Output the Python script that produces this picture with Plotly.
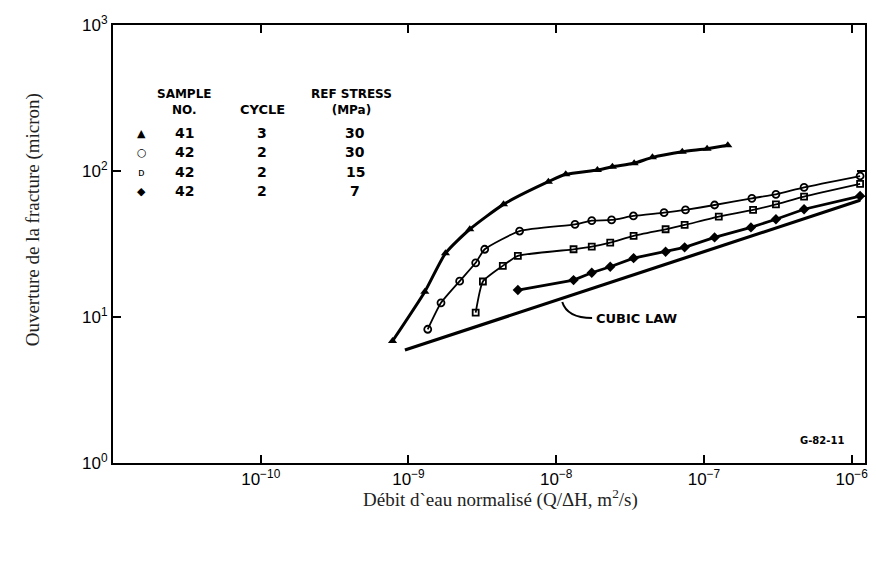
import plotly.graph_objects as go

# ---------------- data ----------------
a_x = [7.8e-10, 1.29e-9, 1.78e-9, 2.6e-9, 4.4e-9, 8.85e-9, 1.16e-8, 1.9e-8, 2.4e-8,
       3.37e-8, 4.48e-8, 7.13e-8, 1.05e-7, 1.45e-7]
a_y = [6.85, 14.9, 27.3, 39.9, 59.1, 84.5, 94.9, 101.6, 107, 113, 124, 135.6, 142, 150]

b_x = [1.35e-9, 1.66e-9, 2.22e-9, 2.85e-9, 3.28e-9, 5.65e-9, 1.34e-8, 1.74e-8, 2.37e-8,
       3.33e-8, 5.37e-8, 7.5e-8, 1.18e-7, 2.11e-7, 3.07e-7, 4.76e-7, 1.14e-6]
b_y = [8.24, 12.5, 17.6, 23.5, 29.1, 38.8, 43.1, 45.7, 46.2, 49.2, 51.8, 54.1, 58.5,
       65, 69.2, 77.3, 92.4]

c_x = [2.85e-9, 3.19e-9, 4.35e-9, 5.5e-9, 1.31e-8, 1.74e-8, 2.32e-8, 3.34e-8, 5.5e-8,
       7.4e-8, 1.26e-7, 2.15e-7, 3.07e-7, 4.76e-7, 1.14e-6]
c_y = [10.7, 17.5, 22.4, 26.2, 29.1, 30.3, 32.3, 36, 39.9, 42.7, 48.7, 54.1, 59.1, 66.7, 81.5]

d_x = [5.5e-9, 1.31e-8, 1.74e-8, 2.32e-8, 3.34e-8, 5.5e-8, 7.4e-8, 1.18e-7, 2.08e-7,
       3.07e-7, 4.76e-7, 1.14e-6]
d_y = [15.3, 17.9, 20.1, 22.1, 25.3, 28.0, 30, 35.1, 41.1, 46.7, 54.7, 67.4]

cubic_x = [9.46e-10, 1.14e-6]
cubic_y = [5.94, 63]

x_tickvals = [1e-10, 1e-9, 1e-8, 1e-7, 1e-6]
x_ticktext = ["10<sup>−10</sup>", "10<sup>−9</sup>", "10<sup>−8</sup>", "10<sup>−7</sup>", "10<sup>−6</sup>"]
y_tickvals = [1, 10, 100, 1000]
y_ticktext = ["10<sup>0</sup>", "10<sup>1</sup>", "10<sup>2</sup>", "10<sup>3</sup>"]

table_header_sample = ["SAMPLE", "NO."]
table_header_cycle = "CYCLE"
table_header_stress = ["REF STRESS", "(MPa)"]
table_symbols = ["▲", "○", "ᴅ", "◆"]
table_sample = ["41", "42", "42", "42"]
table_cycle = ["3", "2", "2", "2"]
table_stress = ["30", "30", "15", "7"]

# ---------------- layout geometry ----------------
W, H = 876, 562
L, R, T, B = 113, 868, 25, 463

def px(x):
    return (x - L) / (R - L)

def py(y):
    return (B - y) / (B - T)

fig = go.Figure()

fig.add_trace(go.Scatter(x=cubic_x, y=cubic_y, mode="lines",
                         line=dict(color="black", width=3.2), hoverinfo="skip"))
fig.add_trace(go.Scatter(x=a_x, y=a_y, mode="lines+markers",
                         line=dict(color="black", width=3, shape="spline", smoothing=0.6),
                         marker=dict(symbol="triangle-up", size=8, color="black")))
fig.add_trace(go.Scatter(x=b_x, y=b_y, mode="lines+markers",
                         line=dict(color="black", width=1.8, shape="spline", smoothing=0.5),
                         marker=dict(symbol="circle-open", size=7, color="black",
                                     line=dict(width=1.8))))
fig.add_trace(go.Scatter(x=c_x, y=c_y, mode="lines+markers",
                         line=dict(color="black", width=1.8, shape="spline", smoothing=0.5),
                         marker=dict(symbol="square-open", size=6, color="black",
                                     line=dict(width=1.8))))
fig.add_trace(go.Scatter(x=d_x, y=d_y, mode="lines+markers",
                         line=dict(color="black", width=2.8),
                         marker=dict(symbol="diamond", size=8, color="black")))

annotations = []

def txt(x, y, s, size=13, anchor="center", family="DejaVu Sans"):
    annotations.append(dict(xref="paper", yref="paper", x=px(x), y=py(y), text=s,
                            showarrow=False, xanchor=anchor, yanchor="middle",
                            font=dict(family=family, size=size, color="black")))

txt(185, 102, "<b>" + table_header_sample[0] + "<br>" + table_header_sample[1] + "</b>", size=12)
txt(263, 109, "<b>" + table_header_cycle + "</b>", size=13)
txt(352, 102, "<b>" + table_header_stress[0] + "<br>" + table_header_stress[1] + "</b>", size=12)
rows_y = [133, 152, 172, 191]
for i, yy in enumerate(rows_y):
    txt(142, yy, table_symbols[i], size=11)
    txt(185, yy, "<b>" + table_sample[i] + "</b>", size=14)
    txt(263, yy, "<b>" + table_cycle[i] + "</b>", size=14)
    txt(356, yy, "<b>" + table_stress[i] + "</b>", size=14)

# cubic law label with curved leader
txt(596, 318, "<b>CUBIC LAW</b>", size=13, anchor="left")
leader = "M {:.4f},{:.4f} Q {:.4f},{:.4f} {:.4f},{:.4f}".format(
    px(594), py(318), px(569), py(318), px(564), py(302))
shapes = [dict(type="path", xref="paper", yref="paper", path=leader,
               line=dict(color="black", width=2))]

txt(825, 440, "<b>G-82-11</b>", size=10)

# axis titles
annotations.append(dict(xref="paper", yref="paper", x=px(502), y=py(499),
                        text="Débit d`eau normalisé (Q/ΔH, m<sup>2</sup>/s)", showarrow=False,
                        xanchor="center", yanchor="middle",
                        font=dict(family="Liberation Serif", size=19, color="#222")))
annotations.append(dict(xref="paper", yref="paper", x=px(33), y=py(220),
                        text="Ouverture de la fracture (micron)", showarrow=False,
                        textangle=-90, xanchor="center", yanchor="middle",
                        font=dict(family="Liberation Serif", size=19, color="#222")))

axis_common = dict(showline=True, linecolor="black", linewidth=2, mirror="ticks",
                   ticks="inside", ticklen=8, tickwidth=1.5, tickcolor="black",
                   showgrid=False, zeroline=False,
                   tickfont=dict(family="Liberation Sans", size=17, color="black"))

fig.update_layout(
    width=W, height=H,
    margin=dict(l=L, r=W - R, t=T, b=H - B),
    paper_bgcolor="white", plot_bgcolor="white",
    showlegend=False,
    xaxis=dict(type="log", range=[-11.0, -5.91], tickvals=x_tickvals, ticktext=x_ticktext,
               **axis_common),
    yaxis=dict(type="log", range=[0, 3], tickvals=y_tickvals, ticktext=y_ticktext,
               **axis_common),
    annotations=annotations,
    shapes=shapes,
)

fig.write_html("out.html")
